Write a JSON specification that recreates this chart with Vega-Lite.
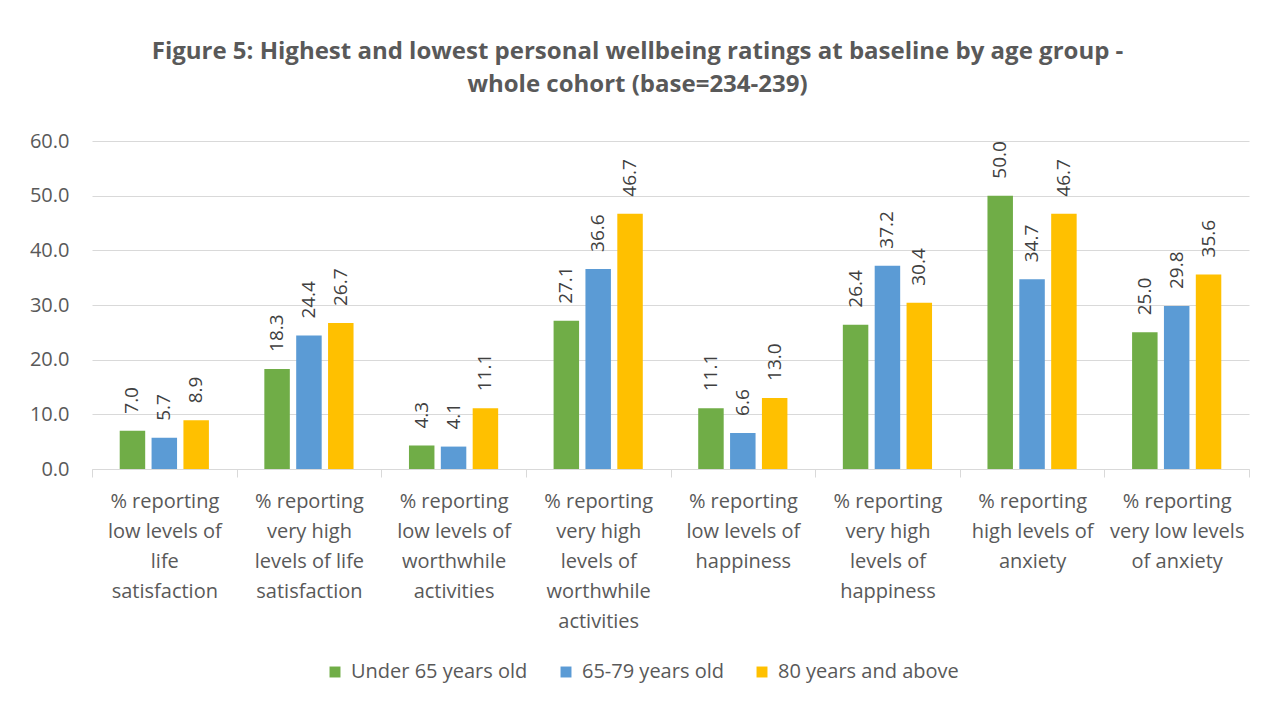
{
  "$schema": "https://vega.github.io/schema/vega-lite/v6.json",
  "width": 1264,
  "height": 702,
  "autosize": {"type": "fit", "contains": "padding"},
  "padding": {"left": 29, "right": 14, "top": 40, "bottom": 71},
  "background": "white",
  "config": {
    "font": "Open Sans",
    "view": {"stroke": null}
  },
  "title": {
    "text": ["Figure 5: Highest and lowest personal wellbeing ratings at baseline by age group -", "whole cohort (base=234-239)"],
    "font": "Open Sans",
    "fontSize": 24,
    "fontWeight": "bold",
    "color": "#595959",
    "anchor": "middle",
    "lineHeight": 33,
    "offset": 34,
    "dx": -33
  },
  "data": {
    "values": [
      {"category": "% reporting|low levels of|life|satisfaction", "group": "Under 65 years old", "value": 7.0},
      {"category": "% reporting|low levels of|life|satisfaction", "group": "65-79 years old", "value": 5.7},
      {"category": "% reporting|low levels of|life|satisfaction", "group": "80 years and above", "value": 8.9},
      {"category": "% reporting|very high|levels of life|satisfaction", "group": "Under 65 years old", "value": 18.3},
      {"category": "% reporting|very high|levels of life|satisfaction", "group": "65-79 years old", "value": 24.4},
      {"category": "% reporting|very high|levels of life|satisfaction", "group": "80 years and above", "value": 26.7},
      {"category": "% reporting|low levels of|worthwhile|activities", "group": "Under 65 years old", "value": 4.3},
      {"category": "% reporting|low levels of|worthwhile|activities", "group": "65-79 years old", "value": 4.1},
      {"category": "% reporting|low levels of|worthwhile|activities", "group": "80 years and above", "value": 11.1},
      {"category": "% reporting|very high|levels of|worthwhile|activities", "group": "Under 65 years old", "value": 27.1},
      {"category": "% reporting|very high|levels of|worthwhile|activities", "group": "65-79 years old", "value": 36.6},
      {"category": "% reporting|very high|levels of|worthwhile|activities", "group": "80 years and above", "value": 46.7},
      {"category": "% reporting|low levels of|happiness", "group": "Under 65 years old", "value": 11.1},
      {"category": "% reporting|low levels of|happiness", "group": "65-79 years old", "value": 6.6},
      {"category": "% reporting|low levels of|happiness", "group": "80 years and above", "value": 13.0},
      {"category": "% reporting|very high|levels of|happiness", "group": "Under 65 years old", "value": 26.4},
      {"category": "% reporting|very high|levels of|happiness", "group": "65-79 years old", "value": 37.2},
      {"category": "% reporting|very high|levels of|happiness", "group": "80 years and above", "value": 30.4},
      {"category": "% reporting|high levels of|anxiety", "group": "Under 65 years old", "value": 50.0},
      {"category": "% reporting|high levels of|anxiety", "group": "65-79 years old", "value": 34.7},
      {"category": "% reporting|high levels of|anxiety", "group": "80 years and above", "value": 46.7},
      {"category": "% reporting|very low levels|of anxiety", "group": "Under 65 years old", "value": 25.0},
      {"category": "% reporting|very low levels|of anxiety", "group": "65-79 years old", "value": 29.8},
      {"category": "% reporting|very low levels|of anxiety", "group": "80 years and above", "value": 35.6}
    ]
  },
  "encoding": {
    "x": {
      "field": "category",
      "type": "nominal",
      "sort": null,
      "scale": {"paddingInner": 0, "paddingOuter": 0},
      "axis": {
        "title": null,
        "labelAngle": 0,
        "labelExpr": "isValid(datum.value) ? split(datum.value, '|') : ''",
        "labelFontSize": 20,
        "labelColor": "#595959",
        "labelLineHeight": 30,
        "labelPadding": 14,
        "labelBaseline": "top",
        "labelLimit": 200,
        "tickBand": "extent",
        "ticks": true,
        "tickSize": 8,
        "tickColor": "#d9d9d9",
        "domainColor": "#d9d9d9",
        "domainWidth": 1,
        "grid": false
      }
    },
    "xOffset": {
      "field": "group",
      "type": "nominal",
      "sort": ["Under 65 years old", "65-79 years old", "80 years and above"],
      "scale": {"paddingInner": 0.2, "paddingOuter": 0.87}
    },
    "y": {
      "field": "value",
      "type": "quantitative",
      "scale": {"domain": [0, 60]},
      "axis": {
        "title": null,
        "values": [0, 10, 20, 30, 40, 50, 60],
        "format": ".1f",
        "labelFontSize": 20,
        "labelColor": "#595959",
        "labelPadding": 23,
        "domain": false,
        "ticks": false,
        "gridColor": "#d9d9d9",
        "gridWidth": 1
      }
    }
  },
  "layer": [
    {
      "mark": {"type": "bar"},
      "encoding": {
        "color": {
          "field": "group",
          "type": "nominal",
          "scale": {
            "domain": ["Under 65 years old", "65-79 years old", "80 years and above"],
            "range": ["#70AD47", "#5B9BD5", "#FFC000"]
          },
          "legend": {
            "title": null,
            "orient": "none",
            "legendX": 233,
            "legendY": 521,
            "padding": 0,
            "direction": "horizontal",
            "symbolType": "square",
            "symbolSize": 120,
            "symbolStrokeWidth": 0,
            "symbolOpacity": 1,
            "labelFontSize": 20,
            "labelColor": "#595959",
            "labelLimit": 400,
            "columnPadding": 28,
            "labelOffset": 6
          }
        }
      }
    },
    {
      "mark": {"type": "text", "angle": 270, "align": "left", "baseline": "middle", "dx": 17, "fontSize": 19, "color": "#404040"},
      "encoding": {
        "text": {"field": "value", "type": "quantitative", "format": ".1f"}
      }
    }
  ]
}
